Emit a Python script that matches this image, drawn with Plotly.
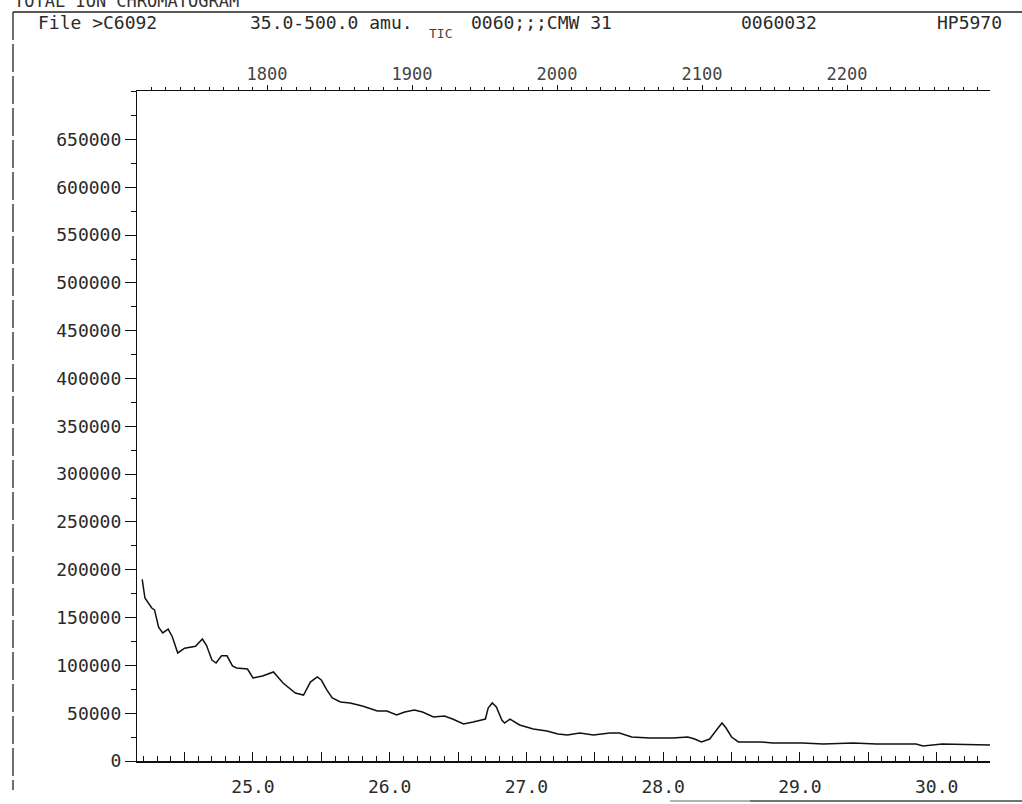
import plotly.graph_objects as go

# ---- data ----
time_min = [24.19, 24.21, 24.26, 24.28, 24.31, 24.34, 24.38, 24.41, 24.45, 24.50,
            24.58, 24.63, 24.66, 24.70, 24.73, 24.77, 24.81, 24.85, 24.88, 24.96,
            25.00, 25.07, 25.15, 25.22, 25.31, 25.37, 25.42, 25.47, 25.50, 25.54,
            25.58, 25.64, 25.71, 25.80, 25.91, 25.98, 26.05, 26.11, 26.18, 26.24,
            26.32, 26.40, 26.46, 26.54, 26.61, 26.70, 26.72, 26.75, 26.78, 26.82,
            26.84, 26.88, 26.95, 27.05, 27.15, 27.23, 27.30, 27.39, 27.49, 27.61,
            27.68, 27.77, 27.90, 28.07, 28.18, 28.23, 28.28, 28.34, 28.39, 28.43,
            28.46, 28.50, 28.55, 28.71, 28.80, 29.02, 29.17, 29.39, 29.56, 29.85,
            29.90, 30.04, 30.39]
tic = [190000, 170500, 160000, 158000, 140000, 134000, 138000, 130000, 113000, 118000,
       120000, 127600, 121000, 105600, 102500, 110000, 110000, 99400, 97300, 96200,
       86800, 88900, 93100, 81600, 71100, 69000, 82600, 87900, 84700, 74300,
       65900, 61700, 60700, 57500, 52300, 52300, 48100, 51300, 53300, 51300,
       46000, 47100, 43900, 38700, 40800, 43900, 55400, 60700, 56500, 42900,
       39700, 43900, 37700, 33500, 31400, 28200, 27200, 29300, 27200, 29300,
       29300, 25100, 24100, 24100, 25100, 23000, 19900, 23000, 32400, 39700,
       34500, 25100, 19900, 19900, 18800, 18800, 17800, 18800, 17800, 17800,
       15700, 17800, 16700]

x_tick_vals = [24.5, 25.0, 25.5, 26.0, 26.5, 27.0, 27.5, 28.0, 28.5, 29.0, 29.5, 30.0]
x_tick_text = ["", "25.0", "", "26.0", "", "27.0", "", "28.0", "", "29.0", "", "30.0"]
y_tick_vals = [0, 50000, 100000, 150000, 200000, 250000, 300000, 350000, 400000,
               450000, 500000, 550000, 600000, 650000]
y_tick_text = ["0", "50000", "100000", "150000", "200000", "250000", "300000", "350000",
               "400000", "450000", "500000", "550000", "600000", "650000"]
scan_tick_vals = [1800, 1900, 2000, 2100, 2200]
scan_tick_text = ["1800", "1900", "2000", "2100", "2200"]

header_texts = ["File >C6092", "35.0-500.0 amu.", "0060;;;CMW 31", "0060032", "HP5970"]
title_text = "TOTAL ION CHROMATOGRAM"
subtitle_text = "TIC"

# ---- layout geometry (pixels) ----
W, H = 1022, 804
L, R, T, B = 137, 32, 91, 43
PW, PH = W - L - R, H - T - B


def px(xp):
    return (xp - L) / PW


def py(yp):
    return (H - B - yp) / PH


FONT = "DejaVu Sans Mono"
TXT = "#2a2a2a"

fig = go.Figure()
fig.add_trace(go.Scatter(x=time_min, y=tic, mode="lines",
                         line=dict(color="#111111", width=1.5),
                         showlegend=False, hoverinfo="x+y"))
fig.add_trace(go.Scatter(x=scan_tick_vals, y=[None] * len(scan_tick_vals),
                         xaxis="x2", mode="lines", showlegend=False,
                         hoverinfo="skip"))

fig.update_layout(
    width=W, height=H, autosize=False,
    margin=dict(l=L, r=R, t=T, b=B, autoexpand=False),
    paper_bgcolor="white", plot_bgcolor="white",
    font=dict(family=FONT, size=15, color=TXT),
    xaxis=dict(range=[24.152, 30.39], showgrid=False, zeroline=False,
               automargin=False,
               showline=True, linecolor="#111", linewidth=1.5,
               tickmode="array", tickvals=x_tick_vals, ticktext=x_tick_text,
               ticks="inside", ticklen=9, tickwidth=1.3, tickcolor="#111",
               ticklabelstandoff=9,
               minor=dict(dtick=0.1, tick0=24.0, ticks="inside", ticklen=5,
                          tickwidth=1.2, tickcolor="#111", showgrid=False),
               tickfont=dict(family=FONT, size=18, color=TXT)),
    xaxis2=dict(overlaying="x", side="top", anchor="y", automargin=False,
                range=[1710.3, 2298.6], showgrid=False, zeroline=False,
                showline=True, linecolor="#111", linewidth=1.3,
                tickmode="array", tickvals=scan_tick_vals, ticktext=scan_tick_text,
                ticks="outside", ticklen=5, tickwidth=1.2, tickcolor="#111",
                ticklabelstandoff=-2,
                minor=dict(dtick=10, tick0=1700, ticks="outside", ticklen=3,
                           tickwidth=1, tickcolor="#111", showgrid=False),
                tickfont=dict(family=FONT, size=17, color="#444")),
    yaxis=dict(range=[0, 700800], showgrid=False, zeroline=False,
               automargin=False,
               showline=True, linecolor="#111", linewidth=1.3,
               tickmode="array", tickvals=y_tick_vals, ticktext=y_tick_text,
               ticks="outside", ticklen=11, tickwidth=1.3, tickcolor="#111",
               minor=dict(dtick=25000, ticks="outside", ticklen=5, tickwidth=1,
                          tickcolor="#111", showgrid=False),
               tickfont=dict(family=FONT, size=18, color=TXT)),
)

# frame lines of the printout
frame = dict(color="#222", width=1.3)
fig.add_shape(type="line", xref="paper", yref="paper",
              x0=px(13), x1=px(1022), y0=py(12), y1=py(12), line=frame)
fig.add_shape(type="line", xref="paper", yref="paper",
              x0=px(13), x1=px(13), y0=py(12), y1=py(790),
              line=dict(color="#222", width=1.3, dash="28px,4px"))
fig.add_shape(type="line", xref="paper", yref="paper",
              x0=px(670), x1=px(750), y0=py(801), y1=py(801),
              line=dict(color="#999", width=1.3))
fig.add_shape(type="line", xref="paper", yref="paper",
              x0=px(750), x1=px(1022), y0=py(801), y1=py(801),
              line=dict(color="#444", width=1.3))

# header texts
header_pos = [(97, 22), (331, 22), (541, 22), (779, 22), (935, 22)]
for i, (t, (xp, yp)) in enumerate(zip(header_texts, header_pos)):
    fig.add_annotation(text=t, xref="paper", yref="paper", x=px(xp), y=py(yp),
                       xanchor="left" if i == 4 else "center", yanchor="middle",
                       showarrow=False, font=dict(family=FONT, size=18, color=TXT))
fig.add_annotation(text=subtitle_text, xref="paper", yref="paper", x=px(440), y=py(33),
                   xanchor="center", yanchor="middle", showarrow=False,
                   font=dict(family=FONT, size=13, color="#444"))
fig.add_annotation(text=title_text, xref="paper", yref="paper", x=px(12), y=py(1),
                   xanchor="left", yanchor="middle", showarrow=False,
                   font=dict(family=FONT, size=17, color="#333"))

fig.write_html(
    "out.html",
    config=dict(displayModeBar=False),
    post_script=(
        "document.body.style.margin='0';"
        "document.body.style.overflow='hidden';"
    ),
)
